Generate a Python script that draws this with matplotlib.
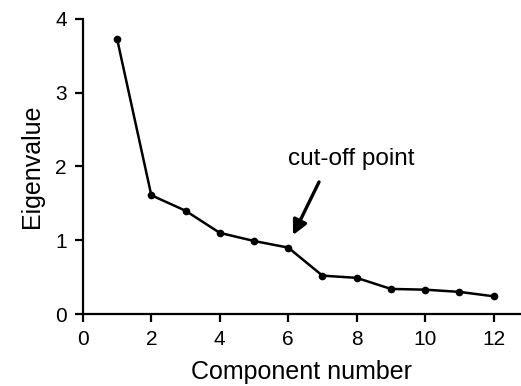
import matplotlib.pyplot as plt

plt.rcParams['font.family'] = ['Liberation Sans', 'DejaVu Sans']

components = [1, 2, 3, 4, 5, 6, 7, 8, 9, 10, 11, 12]
eigenvalues = [3.73, 1.61, 1.40, 1.10, 0.99, 0.90, 0.52, 0.49, 0.34, 0.33, 0.30, 0.24]

fig = plt.figure(figsize=(5.21, 3.86), dpi=100)
ax = fig.add_axes([0.159, 0.1865, 0.841, 0.7645])

ax.plot(components, eigenvalues, color='black', lw=1.8, marker='o', markersize=4.5)

# arrow pointing at the cut-off (component 6)
ax.annotate('', xy=(6.14, 1.07), xytext=(6.9, 1.79),
            arrowprops=dict(arrowstyle='-|>', color='black', lw=2.4, mutation_scale=22,
                            shrinkA=0, shrinkB=0))
ax.text(6.0, 2.02, 'cut-off point', fontsize=17.5, ha='left', va='baseline')

ax.set_xlim(0, 12.8)
ax.set_ylim(0, 4)
ax.set_xticks([0, 2, 4, 6, 8, 10, 12])
ax.set_yticks([0, 1, 2, 3, 4])
ax.spines['top'].set_visible(False)
ax.spines['right'].set_visible(False)
ax.spines['left'].set_linewidth(1.6)
ax.spines['bottom'].set_linewidth(1.6)
ax.tick_params(direction='out', length=5.5, width=1.6, labelsize=15, pad=6)
ax.set_xlabel('Component number', fontsize=18, labelpad=8)
ax.set_ylabel('Eigenvalue', fontsize=18, labelpad=8)

fig.savefig('out.png', dpi=100)
